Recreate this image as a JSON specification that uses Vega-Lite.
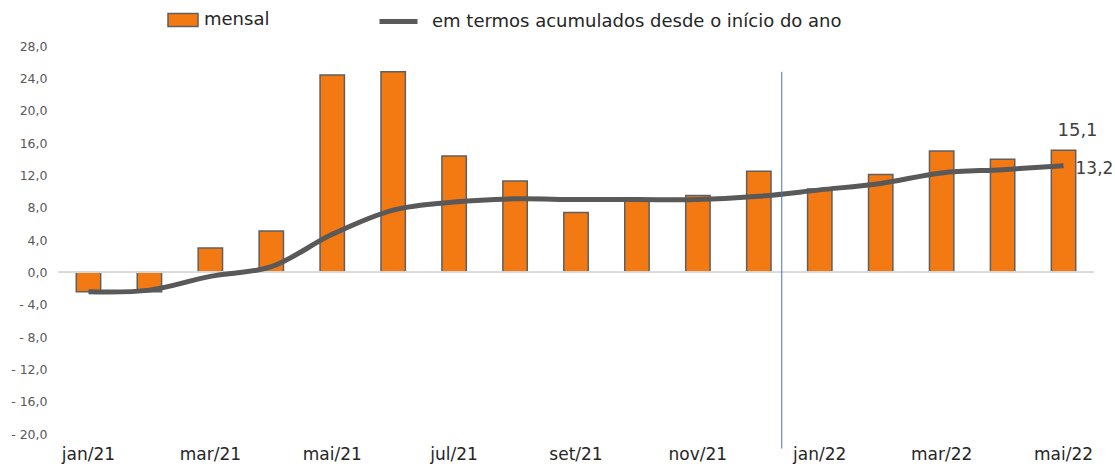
{
  "$schema": "https://vega.github.io/schema/vega-lite/v6.json",
  "width": 1036,
  "height": 388,
  "autosize": {"type": "none"},
  "padding": {"left": 58, "top": 46, "right": 21, "bottom": 32},
  "config": {
    "view": {"stroke": null},
    "font": "DejaVu Sans",
    "locale": {"number": {"decimal": ",", "thousands": ".", "grouping": [3], "currency": ["", ""], "minus": "- "}}
  },
  "data": {
    "values": [
      {"mes": "jan/21", "mensal": -2.4, "acum": -2.4},
      {"mes": "fev/21", "mensal": -2.4, "acum": -2.2},
      {"mes": "mar/21", "mensal": 3.0, "acum": -0.5},
      {"mes": "abr/21", "mensal": 5.1, "acum": 0.7},
      {"mes": "mai/21", "mensal": 24.4, "acum": 4.7},
      {"mes": "jun/21", "mensal": 24.8, "acum": 7.7},
      {"mes": "jul/21", "mensal": 14.4, "acum": 8.7},
      {"mes": "ago/21", "mensal": 11.3, "acum": 9.1},
      {"mes": "set/21", "mensal": 7.4, "acum": 9.0},
      {"mes": "out/21", "mensal": 8.8, "acum": 9.0},
      {"mes": "nov/21", "mensal": 9.5, "acum": 9.0},
      {"mes": "dez/21", "mensal": 12.5, "acum": 9.4},
      {"mes": "jan/22", "mensal": 10.3, "acum": 10.2},
      {"mes": "fev/22", "mensal": 12.1, "acum": 11.0},
      {"mes": "mar/22", "mensal": 15.0, "acum": 12.3},
      {"mes": "abr/22", "mensal": 14.0, "acum": 12.7},
      {"mes": "mai/22", "mensal": 15.1, "acum": 13.2}
    ]
  },
  "layer": [
    {
      "mark": {"type": "bar", "stroke": "#5f5f5f", "strokeWidth": 1.5},
      "encoding": {
        "x": {
          "field": "mes", "type": "ordinal", "sort": null,
          "scale": {"paddingInner": 0.6, "paddingOuter": 0.3},
          "axis": {
            "values": ["jan/21", "mar/21", "mai/21", "jul/21", "set/21", "nov/21", "jan/22", "mar/22", "mai/22"],
            "domain": false, "ticks": false, "labelAngle": 0, "labelFontSize": 17,
            "labelColor": "#262626", "labelPadding": 12, "title": null
          }
        },
        "y": {
          "field": "mensal", "type": "quantitative",
          "scale": {"domain": [-20, 28], "nice": false, "zero": false},
          "axis": {
            "values": [-20, -16, -12, -8, -4, 0, 4, 8, 12, 16, 20, 24, 28],
            "tickCount": 13, "labelFlush": false, "labelBound": false,
            "format": ".1f", "grid": false, "domain": false, "ticks": false, "labelOverlap": false,
            "labelPadding": 11, "labelFontSize": 12.5, "labelColor": "#595959", "title": null
          }
        },
        "fill": {
          "datum": "mensal",
          "scale": {"range": ["#F37A12"]},
          "legend": {
            "orient": "none", "legendX": 109, "legendY": -42, "title": null,
            "symbolType": "M-1,-0.43H1V0.43H-1Z", "symbolSize": 900,
            "symbolStrokeColor": "#5f5f5f", "symbolStrokeWidth": 1.5,
            "labelFontSize": 18, "labelColor": "#262626", "labelOffset": 5, "labelLimit": 0
          }
        }
      }
    },
    {
      "mark": {"type": "rule", "color": "#d9d9d9", "strokeWidth": 1},
      "encoding": {"y": {"datum": 0, "type": "quantitative"}}
    },
    {
      "mark": {"type": "line", "strokeWidth": 5, "interpolate": "catmull-rom"},
      "encoding": {
        "x": {"field": "mes", "type": "ordinal", "sort": null},
        "y": {"field": "acum", "type": "quantitative"},
        "stroke": {
          "datum": "em termos acumulados desde o início do ano",
          "scale": {"range": ["#595959"]},
          "legend": {
            "orient": "none", "legendX": 319, "legendY": -46, "title": null,
            "symbolType": "M-1,0H1", "symbolSize": 1444, "symbolStrokeWidth": 5,
            "labelFontSize": 18, "labelColor": "#262626", "labelOffset": 12, "labelLimit": 0
          }
        }
      }
    },
    {
      "transform": [{"filter": "datum.mes == 'jan/22'"}],
      "mark": {"type": "rule", "color": "#4472C4", "strokeWidth": 1, "xOffset": -38},
      "encoding": {
        "x": {"field": "mes", "type": "ordinal", "sort": null},
        "y": {"datum": 24.8, "type": "quantitative"},
        "y2": {"datum": -21.8}
      }
    },
    {
      "transform": [{"filter": "datum.mes == 'mai/22'"}],
      "mark": {"type": "text", "fontSize": 18, "color": "#404040", "dx": 14, "dy": -19},
      "encoding": {
        "x": {"field": "mes", "type": "ordinal", "sort": null},
        "y": {"field": "mensal", "type": "quantitative"},
        "text": {"field": "mensal", "type": "quantitative", "format": ".1f"}
      }
    },
    {
      "transform": [{"filter": "datum.mes == 'mai/22'"}],
      "mark": {"type": "text", "fontSize": 17, "color": "#404040", "align": "left", "dx": 12, "dy": 3},
      "encoding": {
        "x": {"field": "mes", "type": "ordinal", "sort": null},
        "y": {"field": "acum", "type": "quantitative"},
        "text": {"field": "acum", "type": "quantitative", "format": ".1f"}
      }
    }
  ]
}
